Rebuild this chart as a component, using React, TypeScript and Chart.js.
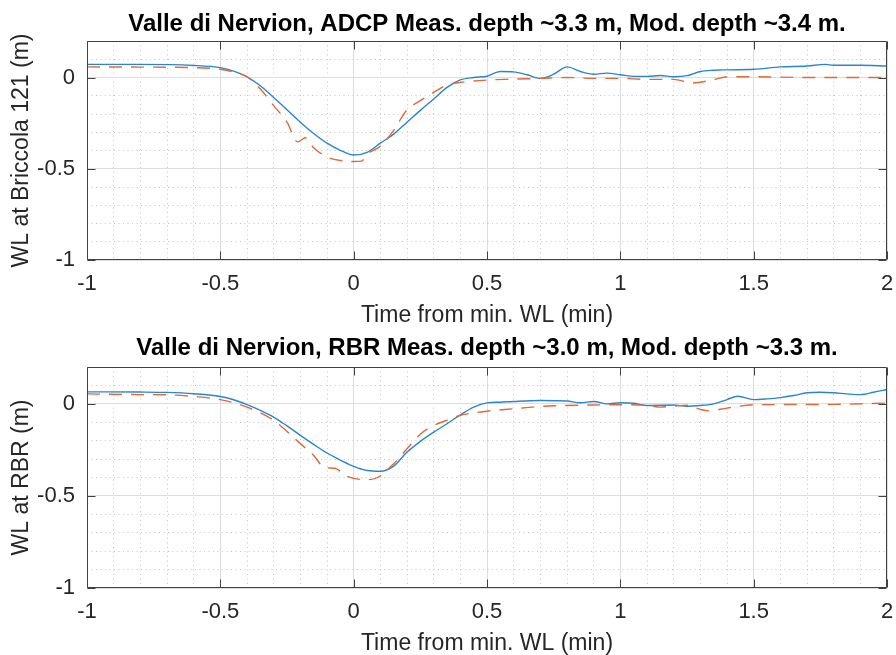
import React, { useEffect, useRef } from "react";
import { Chart, registerables } from "chart.js";

Chart.register(...registerables);

// ---------- data ----------
const panelTitles = [
  "Valle di Nervion, ADCP Meas. depth ~3.3 m, Mod. depth ~3.4 m.",
  "Valle di Nervion, RBR Meas. depth ~3.0 m, Mod. depth ~3.3 m.",
];
const yAxisTitles = ["WL at Briccola 121 (m)", "WL at RBR (m)"];
const xAxisTitle = "Time from min. WL (min)";

const xMin = -1;
const xMax = 2;
const yMin = -1;
const yMax = 0.2;
const minorStep = 0.1;
const majorStep = 0.5;

// Panel 1: ADCP (measured, solid blue) and model (dashed orange)
const adcpMeasTime = [-1, -0.8, -0.6, -0.5, -0.45, -0.4, -0.35, -0.3, -0.25, -0.2, -0.15, -0.1, -0.05, 0, 0.05, 0.1, 0.15, 0.2, 0.25, 0.3, 0.35, 0.4, 0.45, 0.5, 0.55, 0.6, 0.65, 0.7, 0.75, 0.8, 0.85, 0.9, 0.95, 1.0, 1.05, 1.1, 1.15, 1.2, 1.25, 1.3, 1.35, 1.4, 1.5, 1.6, 1.7, 1.77, 1.8, 1.9, 2.0];
const adcpMeasWL = [0.072, 0.072, 0.066, 0.054, 0.035, 0.004, -0.045, -0.11, -0.177, -0.245, -0.307, -0.36, -0.399, -0.425, -0.41, -0.36, -0.31, -0.245, -0.18, -0.118, -0.054, -0.013, 0.0, 0.007, 0.033, 0.031, 0.015, -0.005, 0.018, 0.058, 0.033, 0.018, 0.024, 0.015, 0.006, 0.006, 0.011, 0.004, 0.01, 0.033, 0.04, 0.042, 0.045, 0.058, 0.063, 0.072, 0.067, 0.067, 0.063];

const adcpModTime = [-1, -0.8, -0.6, -0.5, -0.45, -0.4, -0.35, -0.3, -0.25, -0.21, -0.18, -0.15, -0.1, -0.05, 0, 0.03, 0.05, 0.1, 0.15, 0.2, 0.25, 0.3, 0.35, 0.4, 0.5, 0.6, 0.7, 0.8, 0.9, 1.0, 1.1, 1.2, 1.27, 1.35, 1.4, 1.5, 1.7, 2.0];
const adcpModWL = [0.058, 0.057, 0.054, 0.045, 0.03, 0.004, -0.063, -0.154, -0.245, -0.353, -0.33, -0.385, -0.435, -0.455, -0.46, -0.458, -0.42, -0.377, -0.29, -0.177, -0.127, -0.082, -0.041, -0.027, -0.014, -0.009, -0.005, 0.0, -0.005, -0.005, -0.01, -0.01, -0.03, -0.012, 0.004, 0.004, 0.0, 0.0];

// Panel 2: RBR (measured, solid blue) and model (dashed orange)
const rbrMeasTime = [-1, -0.8, -0.7, -0.6, -0.5, -0.45, -0.4, -0.35, -0.3, -0.25, -0.2, -0.15, -0.1, -0.05, 0, 0.05, 0.1, 0.15, 0.2, 0.25, 0.3, 0.35, 0.4, 0.45, 0.5, 0.55, 0.6, 0.7, 0.8, 0.85, 0.9, 0.95, 1.0, 1.05, 1.1, 1.2, 1.25, 1.3, 1.35, 1.4, 1.44, 1.5, 1.55, 1.6, 1.65, 1.7, 1.75, 1.8, 1.85, 1.9, 1.95, 2.0];
const rbrMeasWL = [0.065, 0.064, 0.062, 0.055, 0.04, 0.022, -0.004, -0.035, -0.072, -0.12, -0.171, -0.22, -0.267, -0.305, -0.34, -0.362, -0.366, -0.338, -0.262, -0.204, -0.154, -0.108, -0.06, -0.018, 0.005, 0.009, 0.013, 0.018, 0.015, 0.006, 0.013, 0.0, 0.006, 0.003, -0.009, -0.006, -0.013, -0.009, 0.0, 0.023, 0.041, 0.023, 0.027, 0.034, 0.045, 0.06, 0.063, 0.06, 0.054, 0.05, 0.063, 0.078];

const rbrModTime = [-1, -0.8, -0.7, -0.6, -0.5, -0.4, -0.3, -0.25, -0.2, -0.15, -0.11, -0.07, -0.03, 0, 0.05, 0.09, 0.15, 0.2, 0.25, 0.3, 0.35, 0.4, 0.5, 0.6, 0.7, 0.8, 0.9, 1.0, 1.1, 1.15, 1.2, 1.25, 1.3, 1.33, 1.4, 1.5, 1.6, 1.8, 2.0];
const rbrModWL = [0.054, 0.05, 0.049, 0.04, 0.023, -0.018, -0.09, -0.15, -0.216, -0.28, -0.345, -0.35, -0.39, -0.405, -0.412, -0.4, -0.325, -0.244, -0.165, -0.118, -0.089, -0.063, -0.04, -0.027, -0.014, -0.009, -0.006, -0.005, -0.008, -0.018, -0.012, -0.008, -0.03, -0.038, -0.023, -0.005, -0.004, -0.003, 0.004];

const measColor = "#2a86cc";
const modColor = "#e2683a";
const FONT = "'Liberation Sans', Arial, Helvetica, sans-serif";
const TEXT = "#262626";

// ---------- helpers ----------
const isMajor = (v: number | undefined) =>
  v !== undefined && Math.abs(v / majorStep - Math.round(v / majorStep)) < 1e-6;
const fmt = (v: number) => {
  const r = Math.round(v / majorStep) * majorStep;
  return String(Object.is(r, -0) ? 0 : r);
};
const toXY = (xs: number[], ys: number[]) => xs.map((x, i) => ({ x, y: ys[i] }));

const boxPlugin = {
  id: "matlabBox",
  afterDatasetsDraw(chart: any) {
    const { ctx, chartArea } = chart;
    const xs = chart.scales.x;
    const ys = chart.scales.y;
    const L = Math.round(chartArea.left) + 0.5;
    const R = Math.round(chartArea.right) - 0.5;
    const T = Math.round(chartArea.top) + 0.5;
    const B = Math.round(chartArea.bottom) - 0.5;
    ctx.save();
    ctx.strokeStyle = "#404040";
    ctx.lineWidth = 1;
    ctx.setLineDash([]);
    ctx.beginPath();
    ctx.rect(L, T, R - L, B - T);
    ctx.stroke();
    ctx.beginPath();
    xs.ticks.forEach((t: any) => {
      if (!isMajor(t.value)) return;
      const px = Math.round(xs.getPixelForValue(t.value)) + 0.5;
      ctx.moveTo(px, B);
      ctx.lineTo(px, B - 8);
      ctx.moveTo(px, T);
      ctx.lineTo(px, T + 8);
    });
    ys.ticks.forEach((t: any) => {
      if (!isMajor(t.value)) return;
      const py = Math.round(ys.getPixelForValue(t.value)) + 0.5;
      ctx.moveTo(L, py);
      ctx.lineTo(L + 8, py);
      ctx.moveTo(R, py);
      ctx.lineTo(R - 8, py);
    });
    ctx.stroke();
    ctx.restore();
  },
};

function makeConfig(
  title: string,
  yTitle: string,
  meas: { x: number; y: number }[],
  mod: { x: number; y: number }[],
  titlePad: { top: number; bottom: number },
  xAxisHeight: number
): any {
  const gridColor = (c: any) => (c.tick && isMajor(c.tick.value) ? "#dddddd" : "#c6c6c6");
  const gridDash = (c: any) => (c.tick && !isMajor(c.tick.value) ? [1, 3.5] : []);
  return {
    type: "line",
    data: {
      datasets: [
        {
          data: meas,
          borderColor: measColor,
          borderWidth: 1.4,
          pointRadius: 0,
          fill: false,
          cubicInterpolationMode: "monotone",
          order: 1,
        },
        {
          data: mod,
          borderColor: modColor,
          borderWidth: 1.4,
          borderDash: [13, 9],
          pointRadius: 0,
          fill: false,
          cubicInterpolationMode: "monotone",
          order: 0,
        },
      ],
    },
    options: {
      animation: false,
      responsive: false,
      devicePixelRatio: 1,
      events: [],
      layout: { padding: { left: 0, right: 9, top: 0, bottom: 0 } },
      plugins: {
        legend: { display: false },
        tooltip: { enabled: false },
        title: {
          display: true,
          text: title,
          fullSize: false,
          color: "#000",
          font: { family: FONT, size: 24, weight: "bold", lineHeight: 1 },
          padding: titlePad,
        },
      },
      scales: {
        x: {
          type: "linear",
          min: xMin,
          max: xMax,
          afterFit: (s: any) => {
            s.height = xAxisHeight;
            s.paddingLeft = 0;
            s.paddingRight = 0;
          },
          ticks: {
            stepSize: minorStep,
            autoSkip: false,
            maxRotation: 0,
            padding: 11,
            color: TEXT,
            font: { family: FONT, size: 22, lineHeight: 1.2 },
            callback: (v: any) => (isMajor(Number(v)) ? fmt(Number(v)) : ""),
          },
          grid: { color: gridColor, lineWidth: 1, drawTicks: false },
          border: { display: false, dash: gridDash },
          title: {
            display: true,
            text: xAxisTitle,
            color: TEXT,
            font: { family: FONT, size: 23, lineHeight: 1 },
            padding: { top: 0, bottom: 0 },
          },
        },
        y: {
          type: "linear",
          min: yMin,
          max: yMax,
          afterFit: (s: any) => {
            s.width = 87;
          },
          ticks: {
            stepSize: minorStep,
            autoSkip: false,
            padding: 12,
            color: TEXT,
            font: { family: FONT, size: 22 },
            callback: (v: any) => (isMajor(Number(v)) ? fmt(Number(v)) : ""),
          },
          grid: { color: gridColor, lineWidth: 1, drawTicks: false },
          border: { display: false, dash: gridDash },
          title: {
            display: true,
            text: yTitle,
            color: TEXT,
            font: { family: FONT, size: 23, lineHeight: 1 },
            padding: { top: 10, bottom: 0 },
          },
        },
      },
    },
    plugins: [boxPlugin],
  };
}

function Panel(props: {
  idx: number;
  top: number;
  height: number;
  titlePad: { top: number; bottom: number };
  meas: { x: number; y: number }[];
  mod: { x: number; y: number }[];
}) {
  const ref = useRef<HTMLCanvasElement | null>(null);
  useEffect(() => {
    if (!ref.current) return;
    const chart = new Chart(
      ref.current,
      makeConfig(
        panelTitles[props.idx],
        yAxisTitles[props.idx],
        props.meas,
        props.mod,
        props.titlePad,
        67
      )
    );
    return () => chart.destroy();
  }, []);
  return (
    <canvas
      ref={ref}
      width={896}
      height={props.height}
      style={{ position: "absolute", left: 0, top: props.top, width: 896, height: props.height, display: "block" }}
    />
  );
}

export default function App() {
  return (
    <div style={{ position: "absolute", left: 0, top: 0, width: 896, height: 655, background: "#fff" }}>
      <Panel
        idx={0}
        top={0}
        height={327}
        titlePad={{ top: 12, bottom: 5 }}
        meas={toXY(adcpMeasTime, adcpMeasWL)}
        mod={toXY(adcpModTime, adcpModWL)}
      />
      <Panel
        idx={1}
        top={327}
        height={328}
        titlePad={{ top: 9, bottom: 7 }}
        meas={toXY(rbrMeasTime, rbrMeasWL)}
        mod={toXY(rbrModTime, rbrModWL)}
      />
    </div>
  );
}
